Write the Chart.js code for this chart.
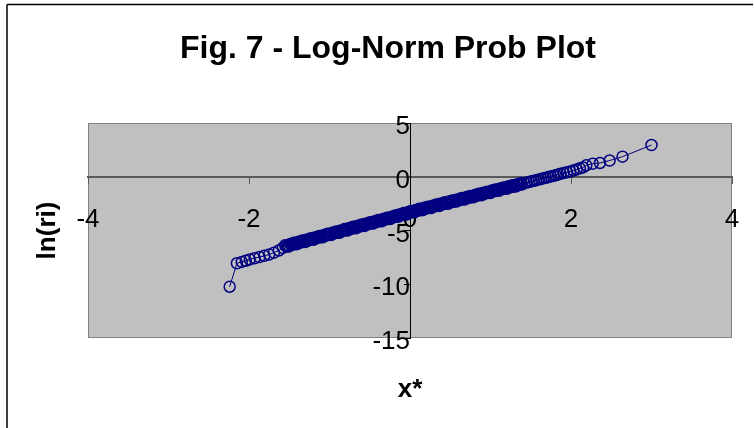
<!DOCTYPE html>
<html>
<head>
<meta charset="utf-8">
<title>Fig. 7 - Log-Norm Prob Plot</title>
<script src="https://cdn.jsdelivr.net/npm/chart.js@4.4.1/dist/chart.umd.min.js"></script>
<style>
  html, body { margin: 0; padding: 0; background: #fff; overflow: hidden; }
  #wrap { width: 754px; height: 428px; position: relative; }
</style>
</head>
<body>
<div id="wrap"><canvas id="probPlot"></canvas></div>
<script>
// x* (normal score) and ln(ri)
const xStar = [
  -2.24, -2.15, -2.09, -2.04, -1.99, -1.93, -1.87, -1.81, -1.75, -1.69, -1.63, -1.58,
  -1.550, -1.535, -1.520, -1.505, -1.490, -1.475, -1.460, -1.445, -1.430, -1.415,
  -1.400, -1.385, -1.370, -1.355, -1.340, -1.325, -1.310, -1.295, -1.280, -1.265,
  -1.250, -1.235, -1.220, -1.205, -1.190, -1.175, -1.160, -1.145, -1.130, -1.115,
  -1.100, -1.085, -1.070, -1.055, -1.040, -1.025, -1.010, -0.995, -0.980, -0.965,
  -0.950, -0.935, -0.920, -0.905, -0.890, -0.875, -0.860, -0.845, -0.830, -0.815,
  -0.800, -0.785, -0.770, -0.755, -0.740, -0.725, -0.710, -0.695, -0.680, -0.665,
  -0.650, -0.635, -0.620, -0.605, -0.590, -0.575, -0.560, -0.545, -0.530, -0.515,
  -0.500, -0.485, -0.470, -0.455, -0.440, -0.425, -0.410, -0.395, -0.380, -0.365,
  -0.350, -0.335, -0.320, -0.305, -0.290, -0.275, -0.260, -0.245, -0.230, -0.215,
  -0.200, -0.185, -0.170, -0.155, -0.140, -0.125, -0.110, -0.095, -0.080, -0.065,
  -0.050, -0.035, -0.020, -0.005,
  0.010, 0.025, 0.040, 0.055, 0.070, 0.085, 0.100, 0.115, 0.130, 0.145,
  0.160, 0.175, 0.190, 0.205, 0.220, 0.235, 0.250, 0.265, 0.280, 0.295,
  0.310, 0.325, 0.340, 0.355, 0.370, 0.385, 0.400, 0.415, 0.430, 0.445,
  0.460, 0.475, 0.490, 0.505, 0.520, 0.535, 0.550, 0.565, 0.580, 0.595,
  0.610, 0.625, 0.640, 0.655, 0.670, 0.685, 0.700, 0.715, 0.730, 0.745,
  0.760, 0.775, 0.790, 0.805, 0.820, 0.835, 0.850, 0.865, 0.880, 0.895,
  0.910, 0.925, 0.940, 0.955, 0.970, 0.985, 1.000, 1.015, 1.030, 1.045,
  1.060, 1.075, 1.090, 1.105, 1.120, 1.135, 1.150, 1.165, 1.180, 1.195,
  1.210, 1.225, 1.240, 1.255, 1.270, 1.285, 1.300, 1.315, 1.330, 1.345,
  1.360, 1.375, 1.390,
  1.42, 1.45, 1.48, 1.51, 1.54, 1.57, 1.60, 1.63, 1.66, 1.69,
  1.72, 1.75, 1.78, 1.81, 1.84, 1.87, 1.91, 1.95, 1.99, 2.03,
  2.07, 2.11, 2.15, 2.19, 2.27, 2.36, 2.48, 2.64, 3.00
];

const lnRi = [
  -10.23, -8.05, -7.92, -7.81, -7.69, -7.58, -7.47, -7.35, -7.23, -7.06, -6.86, -6.62,
  -6.37, -6.50, -6.37, -6.49, -6.26, -6.33, -6.31, -6.15, -6.28, -6.15,
  -6.27, -6.05, -6.12, -6.10, -5.94, -6.07, -5.94, -6.06, -5.84, -5.91,
  -5.89, -5.73, -5.86, -5.73, -5.85, -5.63, -5.69, -5.67, -5.51, -5.64,
  -5.51, -5.63, -5.41, -5.48, -5.46, -5.30, -5.43, -5.30, -5.42, -5.20,
  -5.27, -5.25, -5.09, -5.22, -5.09, -5.21, -4.99, -5.06, -5.03, -4.87,
  -5.00, -4.87, -4.99, -4.77, -4.84, -4.82, -4.66, -4.79, -4.66, -4.78,
  -4.56, -4.63, -4.61, -4.45, -4.58, -4.45, -4.57, -4.35, -4.42, -4.40,
  -4.24, -4.36, -4.23, -4.35, -4.13, -4.20, -4.18, -4.02, -4.15, -4.02,
  -4.14, -3.92, -3.99, -3.97, -3.81, -3.94, -3.81, -3.93, -3.71, -3.78,
  -3.76, -3.60, -3.73, -3.59, -3.71, -3.49, -3.56, -3.54, -3.38, -3.51,
  -3.38, -3.50, -3.28, -3.35,
  -3.18, -3.31, -3.18, -3.31, -3.09, -3.16, -3.14, -2.98, -3.11, -2.98,
  -3.11, -2.89, -2.96, -2.94, -2.78, -2.91, -2.79, -2.91, -2.69, -2.76,
  -2.74, -2.58, -2.71, -2.59, -2.71, -2.49, -2.56, -2.54, -2.38, -2.51,
  -2.39, -2.51, -2.29, -2.36, -2.34, -2.18, -2.32, -2.19, -2.31, -2.09,
  -2.16, -2.14, -1.98, -2.12, -1.99, -2.11, -1.89, -1.96, -1.94, -1.78,
  -1.92, -1.79, -1.91, -1.69, -1.76, -1.74, -1.59, -1.72, -1.59, -1.71,
  -1.49, -1.56, -1.54, -1.39, -1.52, -1.39, -1.51, -1.29, -1.36, -1.34,
  -1.19, -1.32, -1.19, -1.31, -1.09, -1.16, -1.15, -0.99, -1.12, -0.99,
  -1.11, -0.89, -0.96, -0.95, -0.79, -0.92, -0.79, -0.91, -0.69, -0.76,
  -0.75, -0.59, -0.72,
  -0.60, -0.54, -0.49, -0.43, -0.37, -0.32, -0.26, -0.20, -0.14, -0.09,
  -0.03, 0.03, 0.08, 0.14, 0.20, 0.27, 0.34, 0.42, 0.49, 0.58,
  0.68, 0.78, 0.87, 1.06, 1.22, 1.28, 1.51, 1.87, 2.95
];

const xTicks = [-4, -2, 0, 2, 4];
const yTicks = [-15, -10, -5, 0, 5];

Chart.defaults.font.family = "'Liberation Sans', Arial, sans-serif";
Chart.defaults.color = '#000';

// grey plot area + outer frame (only its left/top edges are in the picture)
const plotBackground = {
  id: 'plotBackground',
  beforeDraw(chart) {
    const { ctx, chartArea: a } = chart;
    ctx.save();
    ctx.fillStyle = '#c0c0c0';
    ctx.fillRect(a.left, a.top, a.width, a.height);
    ctx.strokeStyle = '#808080';
    ctx.lineWidth = 1;
    ctx.strokeRect(a.left + 0.5, a.top + 0.5, a.width - 1, a.height - 1);
    ctx.strokeStyle = '#000';
    ctx.lineWidth = 1.5;
    ctx.beginPath();
    ctx.moveTo(7, chart.height);
    ctx.lineTo(7, 4.5);
    ctx.moveTo(7, 4.5);
    ctx.lineTo(chart.width - 1, 4.5);
    ctx.stroke();
    ctx.restore();
  }
};

// empty axes that only hold titles / spacing
const spacer = (extra) => Object.assign({
  display: true,
  ticks: { display: false },
  grid: { display: false },
  border: { display: false }
}, extra);

new Chart(document.getElementById('probPlot'), {
  type: 'scatter',
  data: {
    datasets: [{
      data: xStar.map((x, i) => ({ x: x, y: lnRi[i] })),
      showLine: true,
      borderColor: '#000080',
      borderWidth: 1,
      pointRadius: 5.5,
      pointBorderWidth: 1.5,
      pointBorderColor: '#000080',
      pointBackgroundColor: 'rgba(0,0,0,0)',
      xAxisID: 'x',
      yAxisID: 'y'
    }]
  },
  options: {
    responsive: true,
    maintainAspectRatio: false,
    animation: false,
    events: [],
    layout: { padding: { left: 22, right: 0, top: 0, bottom: 0 } },
    plugins: {
      legend: { display: false },
      tooltip: { enabled: false },
      title: {
        display: true,
        text: 'Fig. 7 - Log-Norm Prob Plot',
        color: '#000',
        font: { size: 32, weight: 'bold' },
        padding: { top: 30, bottom: 54.6 }
      }
    },
    scales: {
      x: {
        type: 'linear',
        min: xTicks[0],
        max: xTicks[xTicks.length - 1],
        position: { y: 0 },
        afterBuildTicks: s => { s.ticks = xTicks.map(v => ({ value: v })); },
        // tick padding must not eat into the plot width
        afterFit: s => { s.paddingLeft = 0; s.paddingRight = 0; },
        grid: { drawOnChartArea: false, tickLength: 6, color: '#5a5a5a' },
        border: { color: '#5a5a5a', width: 2 },
        ticks: { padding: 21, maxRotation: 0, font: { size: 26 } }
      },
      y: {
        type: 'linear',
        min: yTicks[0],
        max: yTicks[yTicks.length - 1],
        position: { x: 0 },
        afterBuildTicks: s => { s.ticks = yTicks.map(v => ({ value: v })); },
        grid: { drawOnChartArea: false, tickLength: 6, color: '#000' },
        border: { color: '#000', width: 1 },
        ticks: { padding: 7, labelOffset: 4, font: { size: 26 } }
      },
      yTitle: spacer({
        position: 'left',
        title: { display: true, text: 'ln(ri)', color: '#000', font: { size: 26, weight: 'bold' }, padding: { top: 10, bottom: 0 } },
        afterFit: s => { s.width = 66; }
      }),
      yPad: spacer({
        position: 'right',
        afterFit: s => { s.width = 22; }
      }),
      xTitle: spacer({
        position: 'bottom',
        title: { display: true, text: 'x*', color: '#000', font: { size: 26, weight: 'bold' }, padding: { top: 0, bottom: 23 } },
        afterFit: s => { s.height = 90; }
      })
    }
  },
  plugins: [plotBackground]
});
</script>
</body>
</html>
